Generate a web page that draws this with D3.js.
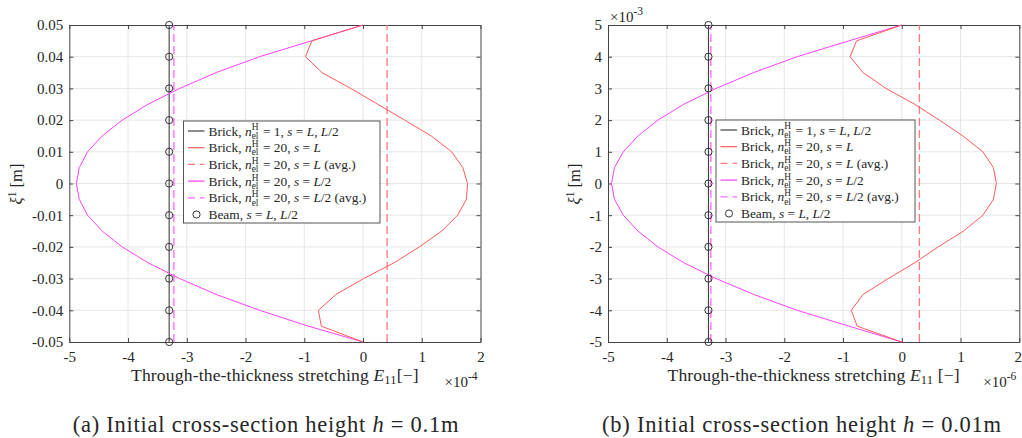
<!DOCTYPE html>
<html><head><meta charset="utf-8">
<script src="https://cdn.jsdelivr.net/npm/d3@7"></script>
<style>
body{margin:0;background:#fff}
</style>
</head><body>
<svg id="c" width="1022" height="438" font-family="'Liberation Serif', 'DejaVu Serif', serif"></svg>
<script>
// ---------- data ----------
const xTicks = [-5, -4, -3, -2, -1, 0, 1, 2];
const xTickLabels = ["-5", "-4", "-3", "-2", "-1", "0", "1", "2"];

const yTicksA = [-0.05, -0.04, -0.03, -0.02, -0.01, 0, 0.01, 0.02, 0.03, 0.04, 0.05];
const yTickLabelsA = ["-0.05", "-0.04", "-0.03", "-0.02", "-0.01", "0", "0.01", "0.02", "0.03", "0.04", "0.05"];
const yTicksB = [-5, -4, -3, -2, -1, 0, 1, 2, 3, 4, 5];
const yTickLabelsB = ["-5", "-4", "-3", "-2", "-1", "0", "1", "2", "3", "4", "5"];

// sampling heights (xi^1)
const ySampleA = [-0.05, -0.045, -0.04, -0.035, -0.03, -0.025, -0.02, -0.015, -0.01, -0.005, 0,
                  0.005, 0.01, 0.015, 0.02, 0.025, 0.03, 0.035, 0.04, 0.045, 0.05];
const ySampleB = [-5, -4.5, -4, -3.5, -3, -2.5, -2, -1.5, -1, -0.5, 0,
                  0.5, 1, 1.5, 2, 2.5, 3, 3.5, 4, 4.5, 5];

// panel (a): E11 in units of 1e-4
const redA = [0, -0.71, -0.76, -0.46, 0.01, 0.53, 0.96, 1.34, 1.61, 1.76, 1.78,
              1.70, 1.51, 1.16, 0.71, 0.25, -0.21, -0.70, -0.98, -0.87, 0];
const magA = [0, -0.93, -1.76, -2.50, -3.12, -3.66, -4.10, -4.44, -4.69, -4.83, -4.88,
              -4.83, -4.69, -4.44, -4.10, -3.66, -3.12, -2.50, -1.76, -0.88, 0];
const brick1A = -3.30, redAvgA = 0.41, magAvgA = -3.22;
const beamYA = [-0.05, -0.04, -0.03, -0.02, -0.01, 0, 0.01, 0.02, 0.03, 0.04, 0.05];
const beamXA = -3.30;

// panel (b): E11 in units of 1e-6, xi in 1e-3
const redB = [0, -0.76, -0.86, -0.66, -0.23, 0.22, 0.62, 1.05, 1.38, 1.56, 1.61,
              1.56, 1.38, 1.04, 0.64, 0.22, -0.27, -0.66, -0.88, -0.77, 0];
const magB = [0, -0.90, -1.78, -2.52, -3.16, -3.71, -4.15, -4.49, -4.74, -4.89, -4.94,
              -4.89, -4.74, -4.49, -4.15, -3.71, -3.16, -2.52, -1.78, -0.90, 0];
const brick1B = -3.29, redAvgB = 0.30, magAvgB = -3.25;
const beamYB = [-5, -4, -3, -2, -1, 0, 1, 2, 3, 4, 5];
const beamXB = -3.29;

const legendLabels = [
  {type:"solid", color:"#404040", parts:[["Brick, "],["n","i"],["HEL","ss"],[" = 1, "],["s","i"],[" = "],["L","i"],[", "],["L","i"],["/2"]]},
  {type:"solid", color:"#ff5a5a", parts:[["Brick, "],["n","i"],["HEL","ss"],[" = 20, "],["s","i"],[" = "],["L","i"]]},
  {type:"dash", color:"#ff7a7a", parts:[["Brick, "],["n","i"],["HEL","ss"],[" = 20, "],["s","i"],[" = "],["L","i"],[" (avg.)"]]},
  {type:"solid", color:"#ff40ff", parts:[["Brick, "],["n","i"],["HEL","ss"],[" = 20, "],["s","i"],[" = "],["L","i"],["/2"]]},
  {type:"dash", color:"#ff66ff", parts:[["Brick, "],["n","i"],["HEL","ss"],[" = 20, "],["s","i"],[" = "],["L","i"],["/2 (avg.)"]]},
  {type:"circle", color:"#333", parts:[["Beam, "],["s","i"],[" = "],["L","i"],[", "],["L","i"],["/2"]]}
];

// ---------- drawing ----------
const FONT = "'Liberation Serif', 'DejaVu Serif', serif";
const svg = d3.select("#c");

function richText(g, parts, size) {
  const t = g.append("text").attr("font-size", size).attr("font-family", FONT).attr("fill", "#262626");
  parts.forEach(p => {
    const [s, st] = p;
    if (st === "ss") {
      const sm = size * 0.7;
      t.append("tspan").attr("font-size", sm).attr("dy", -size*0.38).text("H");
      t.append("tspan").attr("font-size", sm).attr("dx", -sm*0.72).attr("dy", size*0.62).text("el");
      t.append("tspan").attr("font-size", size).attr("dy", -size*0.24).text("\u200A");
    } else if (st === "i") {
      t.append("tspan").attr("font-style", "italic").text(s);
    } else {
      t.append("tspan").text(s);
    }
  });
  return t;
}

function txt(g, size) {
  return g.append("text").attr("font-size", size).attr("font-family", FONT).attr("fill", "#262626");
}

function panel(cfg) {
  const x = d3.scaleLinear().domain([-5, 2]).range([cfg.x0, cfg.x1]);
  const y = d3.scaleLinear().domain(cfg.ydom).range([342, 25]);
  const g = svg.append("g");

  // grid
  g.append("g").selectAll("line").data(xTicks.slice(1, -1)).join("line")
    .attr("x1", d => x(d)).attr("x2", d => x(d)).attr("y1", 25).attr("y2", 342)
    .attr("stroke", "#e6e6e6").attr("stroke-width", 1);
  g.append("g").selectAll("line").data(cfg.yTicks.slice(1, -1)).join("line")
    .attr("y1", d => y(d)).attr("y2", d => y(d)).attr("x1", cfg.x0).attr("x2", cfg.x1)
    .attr("stroke", "#e6e6e6").attr("stroke-width", 1);

  // axes
  const ax = (gen, tr) => {
    const a = g.append("g").attr("transform", tr).call(gen);
    a.attr("font-family", FONT).attr("font-size", 15);
    a.selectAll("text").attr("fill", "#262626");
    a.selectAll("line").attr("stroke", "#444");
    a.select(".domain").attr("stroke", "#444");
    return a;
  };
  const bx = ax(d3.axisBottom(x).tickValues(xTicks).tickFormat((d, i) => xTickLabels[i]).tickSizeInner(-4).tickSizeOuter(0).tickPadding(9), `translate(0,342)`);
  if (cfg.shiftLast) bx.selectAll("text").filter(d => d === 2).attr("dx", -1.5);
  ax(d3.axisTop(x).tickValues(xTicks).tickFormat("").tickSizeInner(-4).tickSizeOuter(0), `translate(0,25)`);
  ax(d3.axisLeft(y).tickValues(cfg.yTicks).tickFormat((d, i) => cfg.yLabels[i]).tickSizeInner(-4).tickSizeOuter(0).tickPadding(6), `translate(${cfg.x0},0)`);
  ax(d3.axisRight(y).tickValues(cfg.yTicks).tickFormat("").tickSizeInner(-4).tickSizeOuter(0), `translate(${cfg.x1},0)`);

  const plot = g.append("g");
  const line = d3.line().x(d => x(d[0])).y(d => y(d[1]));
  const yr = cfg.ydom;

  plot.append("path").datum([[cfg.brick1, yr[0]], [cfg.brick1, yr[1]]]).attr("d", line)
    .attr("stroke", "#404040").attr("stroke-width", 1.1).attr("fill", "none");
  plot.append("path").datum([[cfg.redAvg, yr[0]], [cfg.redAvg, yr[1]]]).attr("d", line)
    .attr("stroke", "#ff7a7a").attr("stroke-width", 1.3).attr("stroke-dasharray", "8,4").attr("fill", "none");
  plot.append("path").datum([[cfg.magAvg, yr[0]], [cfg.magAvg, yr[1]]]).attr("d", line)
    .attr("stroke", "#ff66ff").attr("stroke-width", 1.3).attr("stroke-dasharray", "8,4").attr("fill", "none");
  plot.append("path").datum(cfg.ys.map((v, i) => [cfg.mag[i], v])).attr("d", line)
    .attr("stroke", "#ff40ff").attr("stroke-width", 1).attr("fill", "none");
  plot.append("path").datum(cfg.ys.map((v, i) => [cfg.red[i], v])).attr("d", line)
    .attr("stroke", "#ff5a5a").attr("stroke-width", 1).attr("fill", "none");
  plot.selectAll("circle").data(cfg.beamY).join("circle")
    .attr("cx", x(cfg.beamX)).attr("cy", d => y(d)).attr("r", 3.6)
    .attr("fill", "none").attr("stroke", "#333").attr("stroke-width", 1);

  // legend
  const lg = g.append("g").attr("transform", `translate(${cfg.lx},${cfg.ly})`);
  lg.append("rect").attr("x", 0).attr("y", 0).attr("width", cfg.lw).attr("height", 102)
    .attr("fill", "#fff").attr("stroke", "#555").attr("stroke-width", 1);
  legendLabels.forEach((L, i) => {
    const cy = 10 + i * 16.7;
    const r = lg.append("g");
    if (L.type === "solid") {
      r.append("line").attr("x1", 4.5).attr("x2", 21).attr("y1", cy).attr("y2", cy).attr("stroke", L.color).attr("stroke-width", 1.2);
    } else if (L.type === "dash") {
      r.append("line").attr("x1", 4.5).attr("x2", 21).attr("y1", cy).attr("y2", cy).attr("stroke", L.color).attr("stroke-width", 1.2).attr("stroke-dasharray", "7,5");
    } else {
      r.append("circle").attr("cx", 13).attr("cy", cy).attr("r", 3.6).attr("fill", "none").attr("stroke", L.color);
    }
    const t = richText(r, L.parts, 13.4);
    t.attr("x", 25).attr("y", cy + 4.5);
  });

  // y label
  const yl = txt(g, 16.5).attr("transform", `translate(${cfg.ylabX},184) rotate(-90)`).attr("text-anchor", "middle");
  yl.append("tspan").attr("font-style", "italic").text("ξ");
  yl.append("tspan").attr("font-size", 11.5).attr("dy", -6).text("1");
  yl.append("tspan").attr("dy", 6).text(" [m]");

  // x label
  const xl = txt(g, 17.6).attr("x", (cfg.x0 + cfg.x1) / 2).attr("y", 381).attr("text-anchor", "middle")
    .attr("letter-spacing", 0.15);
  xl.append("tspan").text("Through-the-thickness stretching ");
  xl.append("tspan").attr("font-style", "italic").text("E");
  xl.append("tspan").attr("font-size", 12.5).attr("dy", 3).text("11");
  xl.append("tspan").attr("dy", -3).text(cfg.bracket);

  // x exponent
  const xe = txt(g, 15).attr("x", cfg.x1 - 36).attr("y", 387);
  xe.append("tspan").text("×10");
  xe.append("tspan").attr("font-size", 11.5).attr("dy", -7).text(cfg.xExp);

  if (cfg.yExp) {
    const ye = txt(g, 15).attr("x", cfg.x0 + 2).attr("y", 22);
    ye.append("tspan").text("×10");
    ye.append("tspan").attr("font-size", 11.5).attr("dy", -7).text(cfg.yExp);
  }

  // caption
  const cap = txt(g, 22.5).attr("x", cfg.capX).attr("y", 432).attr("text-anchor", "middle")
    .attr("letter-spacing", 0.75);
  cap.append("tspan").text(cfg.capPre);
  cap.append("tspan").attr("font-style", "italic").text("h");
  cap.append("tspan").text(cfg.capPost);
}

panel({
  x0: 69.3, x1: 480.5, ydom: [-0.05, 0.05], yTicks: yTicksA, yLabels: yTickLabelsA,
  ys: ySampleA, red: redA, mag: magA, brick1: brick1A, redAvg: redAvgA, magAvg: magAvgA,
  beamY: beamYA, beamX: beamXA, lx: 183.5, ly: 121, lw: 196.5, ylabX: 22,
  xExp: "-4", yExp: null, bracket: "[−]", shiftLast: false,
  capX: 266, capPre: "(a) Initial cross-section height ", capPost: " = 0.1m"
});
panel({
  x0: 608, x1: 1019.3, ydom: [-5, 5], yTicks: yTicksB, yLabels: yTickLabelsB,
  ys: ySampleB, red: redB, mag: magB, brick1: brick1B, redAvg: redAvgB, magAvg: magAvgB,
  beamY: beamYB, beamX: beamXB, lx: 716, ly: 120, lw: 199, ylabX: 580,
  xExp: "-6", yExp: "-3", bracket: " [−]", shiftLast: true,
  capX: 802, capPre: "(b) Initial cross-section height ", capPost: " = 0.01m"
});
</script>
</body></html>
